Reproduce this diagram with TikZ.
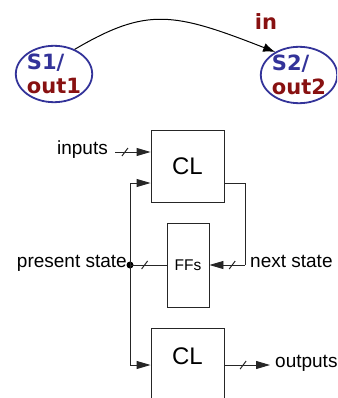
\documentclass[tikz,border=0pt]{standalone}
\usepackage{fontspec}
\setmainfont{Liberation Sans}
\newfontfamily\vfont{DejaVu Sans}
\usetikzlibrary{arrows.meta,shapes.geometric}
\definecolor{sblue}{RGB}{51,51,153}
\definecolor{sred}{RGB}{136,17,17}
\begin{document}
\begin{tikzpicture}[x=1pt,y=-1pt,
  statenode/.style={ellipse,draw=sblue,line width=1.8pt,inner sep=0pt,align=left,
    font=\vfont\bfseries\fontsize{21}{24}\selectfont},
  blk/.style={draw=black!85,line width=0.9pt,inner sep=0pt},
  lbl/.style={inner sep=0pt,font=\fontsize{19}{22}\selectfont,text height=0.75em,text depth=0.25em},
  wire/.style={draw=black!85,line width=0.9pt},
  tip/.style={-{Triangle[length=14pt,width=8pt]}},
  slashmark/.style={draw=black!85,line width=1pt}
]
\useasboundingbox (0,0) rectangle (337,398);
\clip (0,0) rectangle (337,398);

% state diagram
\node[statenode,minimum width=74pt,minimum height=55pt] (s1) at (54,74)
  {\textcolor{sblue}{S1/}\\\textcolor{sred}{out1}};
\node[statenode,minimum width=72pt,minimum height=56pt] (s2) at (299,75)
  {\textcolor{sblue}{S2/}\\\textcolor{sred}{out2}};
\node[inner sep=0pt,text=sred,font=\vfont\bfseries\fontsize{21}{24}\selectfont] (inlbl) at (266,22) {in};
\draw[line width=1pt,-{Latex[length=12pt,width=9pt]}] (s1.50) .. controls (147,7) and (173,12) .. (s2.136);

% block diagram
\node[blk,minimum width=73pt,minimum height=72pt,font=\fontsize{24}{26}\selectfont] (cl1) at (187.5,166) {CL};
\node[blk,minimum width=42pt,minimum height=84pt,font=\fontsize{15.5}{18}\selectfont] (ffs) at (188,265) {FFs};
\node[blk,minimum width=73pt,minimum height=74pt] (cl2) at (187.5,365) {};
\node[inner sep=0pt,font=\fontsize{24}{26}\selectfont] (cl2lbl) at ([yshift=9pt]cl2.center) {CL};

\node[lbl,anchor=east] (inputs) at (108,152) {inputs};
\node[lbl,anchor=east] (pstate) at (127,265) {present state};
\node[lbl,anchor=west] (nstate) at (250,265) {next state};
\node[lbl,anchor=west] (outputs) at (275,365) {outputs};

\node[circle,fill=black,inner sep=0pt,minimum size=7pt] (dot) at (130,265) {};
\coordinate (nsj) at (245,265);

% inputs
\draw[wire,tip] ([xshift=7pt]inputs.east) -- coordinate[pos=0.28] (sl1) (inputs.east -| cl1.west);
\draw[slashmark] (sl1) +(-3,4) -- +(3,-4);
% present state bus
\draw[wire] (dot.center) -- coordinate[pos=0.4] (sl2) (ffs.west);
\draw[slashmark] (sl2) +(-3,4) -- +(3,-4);
\draw[wire,tip] (dot.center) |- ([yshift=-17pt]cl1.west);
\draw[wire,tip] (dot.center) |- (cl2.west);
% next state
\draw[wire] ([yshift=-17pt]cl1.east) -| (nsj);
\draw[wire,tip] (nsj) -- coordinate[pos=0.36] (sl3) (ffs.east);
\draw[slashmark] (sl3) +(-3,4) -- +(3,-4);
% outputs
\draw[wire,tip] (cl2.east) -- coordinate[pos=0.41] (sl4) ([xshift=-5pt]outputs.west);
\draw[slashmark] (sl4) +(-3,4) -- +(3,-4);
\end{tikzpicture}
\end{document}
